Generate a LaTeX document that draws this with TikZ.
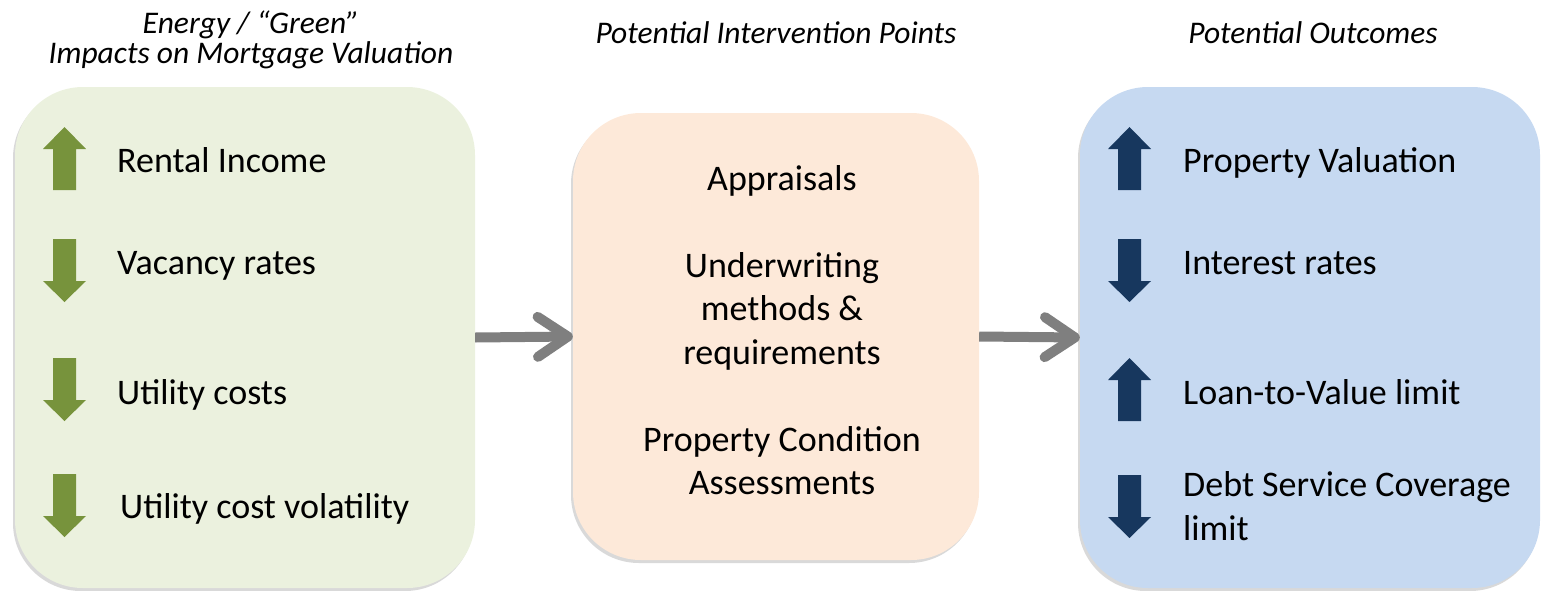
\documentclass[tikz,border=0pt]{standalone}
\usepackage{fontspec}
\setmainfont{Carlito}
\usetikzlibrary{arrows.meta,shadows}
\definecolor{greenfill}{HTML}{EBF1DE}
\definecolor{orangefill}{HTML}{FDE9D9}
\definecolor{bluefill}{HTML}{C6D9F1}
\definecolor{greenarr}{HTML}{77933C}
\definecolor{bluearr}{HTML}{17375E}
\definecolor{grayarr}{HTML}{7F7F7F}
\newcommand\myUpArr[3]{\fill[#1] (#2,#3) -- ++(21.5,22) -- ++(-10,0) -- ++(0,41) -- ++(-23,0) -- ++(0,-41) -- ++(-10,0) -- cycle;}
\newcommand\myDownArr[3]{\fill[#1] (#2-11.5,#3) -- ++(23,0) -- ++(0,42) -- ++(10,0) -- ++(-21.5,21) -- ++(-21.5,-21) -- ++(10,0) -- cycle;}
\tikzset{
  panel/.style={rounded corners=68pt, inner sep=0pt, draw=none,
    drop shadow={shadow xshift=-2pt, shadow yshift=-3pt, opacity=0.25, fill=black!60}},
  titletext/.style={font=\fontsize{31.5}{30}\selectfont\itshape, align=center, inner sep=0pt},
  bodytext/.style={font=\fontsize{36}{43.5}\selectfont, inner sep=0pt},
  conn/.style={draw=grayarr, line width=10pt, -{Straight Barb[length=30pt, width=40pt, round]}},
}
\begin{document}
\begin{tikzpicture}[x=1pt,y=-1pt]
\useasboundingbox (0,0) rectangle (1542,590);
% panels
\node[panel, fill=greenfill, minimum width=460pt, minimum height=501pt] (left) at (245,337.5) {};
\node[panel, fill=orangefill, minimum width=406pt, minimum height=447pt] (mid) at (776,336.5) {};
\node[panel, fill=bluefill, minimum width=460pt, minimum height=501pt] (right) at (1310,337.5) {};
% titles
\node[titletext, anchor=base] (t1) at (251,63) {Energy / ``Green''\\Impacts on Mortgage Valuation};
\node[titletext, anchor=base] (t2) at (776,43) {Potential Intervention Points};
\node[titletext, anchor=base] (t3) at (1313,43) {Potential Outcomes};
% left items
\myUpArr{greenarr}{64.5}{127}
\myDownArr{greenarr}{64.5}{239}
\myDownArr{greenarr}{64.5}{358}
\myDownArr{greenarr}{64.5}{474}
\node[bodytext, anchor=base west] (l1) at (117,172) {Rental Income};
\node[bodytext, anchor=base west] (l2) at (117,274) {Vacancy rates};
\node[bodytext, anchor=base west] (l3) at (117,404) {Utility costs};
\node[bodytext, anchor=base west] (l4) at (120,518) {Utility cost volatility};
% middle
\node[bodytext, align=center, anchor=base] (m1) at (782,538) {Appraisals\\ \mbox{}\\Underwriting\\methods \&\\requirements\\ \mbox{}\\Property Condition\\Assessments\\ \mbox{}};
% right items
\myUpArr{bluearr}{1129.5}{127}
\myDownArr{bluearr}{1129.5}{239}
\myUpArr{bluearr}{1129.5}{358}
\myDownArr{bluearr}{1129.5}{475}
\node[bodytext, anchor=base west] (r1) at (1183,172) {Property Valuation};
\node[bodytext, anchor=base west] (r2) at (1183,274) {Interest rates};
\node[bodytext, anchor=base west] (r3) at (1183,404) {Loan-to-Value limit};
\node[bodytext, align=left, anchor=base west] (r4) at (1183,540) {Debt Service Coverage\\limit};
% connectors
\draw[conn] (left.east) -- (mid.west);
\draw[conn] (mid.east) -- (right.west);
\end{tikzpicture}
\end{document}
